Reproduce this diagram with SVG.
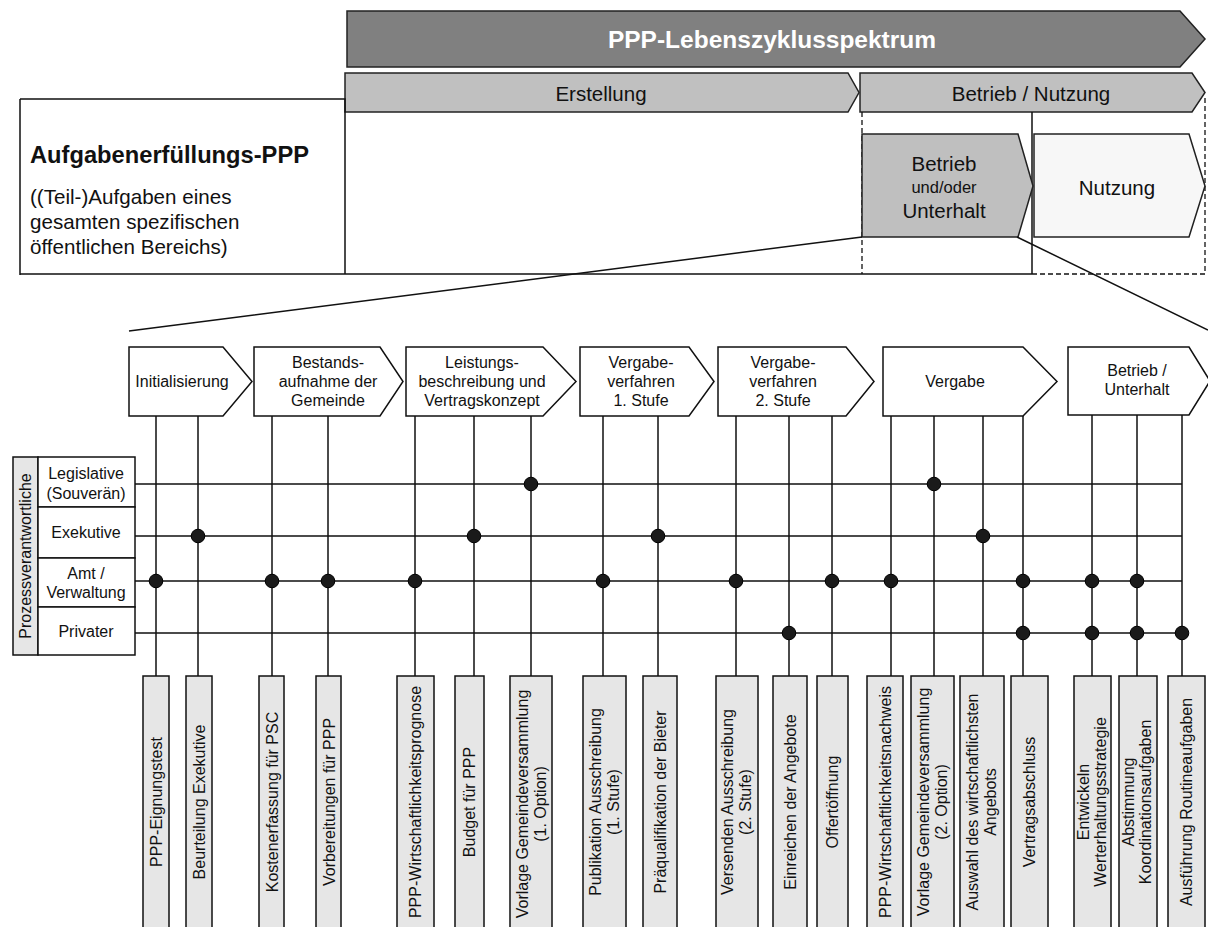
<svg xmlns="http://www.w3.org/2000/svg" width="1208" height="927" viewBox="0 0 1208 927">
<style>
text{font-family:"Liberation Sans",Arial,sans-serif;fill:#111}
.ln{stroke:#111;stroke-width:1.5;fill:none}
.dash{stroke:#111;stroke-width:1.3;fill:none;stroke-dasharray:5,3}
.hdr{fill:#fff;stroke:#111;stroke-width:1.5}
.lbl{fill:#e6e6e6;stroke:#111;stroke-width:1.5}
.cell{fill:#fff;stroke:#111;stroke-width:1.5}
.t16{font-size:16px;text-anchor:middle}
.t21{font-size:20.5px;text-anchor:middle}
.sub{font-size:20.6px}
.dot{fill:#1a1a1a;stroke:#000;stroke-width:1}
</style>
<rect width="1208" height="927" fill="#fff"/>

<g id="lebenszyklus">
<polygon points="347,11 1180,11 1205,39 1180,67 347,67" fill="#808080" stroke="#222" stroke-width="1.5"/>
<text x="772" y="47.5" style="font-size:24.5px;font-weight:bold;fill:#fff;text-anchor:middle">PPP-Lebenszyklusspektrum</text>
</g>
<g id="erstellung">
<polygon points="345,73 848,73 859,92.5 848,112 345,112" fill="#c0c0c0" stroke="#222" stroke-width="1.5"/>
<text class="t21" x="601" y="101">Erstellung</text>
</g>
<g id="betrieb-nutzung">
<polygon points="860,73 1192,73 1205,92.5 1192,112 860,112" fill="#c0c0c0" stroke="#222" stroke-width="1.5"/>
<text class="t21" x="1031" y="101">Betrieb / Nutzung</text>
</g>

<g id="aufgaben">
<path class="ln" d="M20,99 H345 V274 M20,99 V275 M20,274 H1032 M1032,112 V274"/>
<path class="dash" d="M862,112 V274 M1205,98 V274 H1032"/>
<text x="30" y="163" style="font-size:23.7px;font-weight:bold">Aufgabenerfüllungs-PPP</text>
<text class="sub" x="30" y="204">((Teil-)Aufgaben eines</text>
<text class="sub" x="30" y="229">gesamten spezifischen</text>
<text class="sub" x="30" y="254">öffentlichen Bereichs)</text>
</g>

<g id="betrieb-unterhalt-top">
<polygon points="862,134 1018,134 1033,186 1018,237 862,237" fill="#bfbfbf" stroke="#222" stroke-width="1.5"/>
<text class="t21" x="944" y="171">Betrieb</text>
<text x="944" y="193" style="font-size:16.5px;text-anchor:middle">und/oder</text>
<text class="t21" x="944" y="218">Unterhalt</text>
</g>
<g id="nutzung-top">
<polygon points="1034,134 1189,134 1205,186 1189,237 1034,237" fill="#f7f7f7" stroke="#222" stroke-width="1.5"/>
<text class="t21" x="1117" y="195">Nutzung</text>
</g>

<g id="zoom-lines">
<path class="ln" d="M862,237 L129,331 M1017,237 L1208,330" stroke-width="1.3"/>
</g>

<g id="lanes">
<rect x="13" y="457" width="25" height="198" class="lbl"/>
<text transform="translate(31,556) rotate(-90)" class="t16">Prozessverantwortliche</text>
<rect x="38" y="457" width="97" height="50" class="cell"/>
<rect x="38" y="507" width="97" height="51" class="cell"/>
<rect x="38" y="558" width="97" height="49" class="cell"/>
<rect x="38" y="607" width="97" height="48" class="cell"/>
<text class="t16" x="86" y="479">Legislative</text>
<text class="t16" x="86" y="499">(Souverän)</text>
<text class="t16" x="86" y="538">Exekutive</text>
<text class="t16" x="86" y="579">Amt /</text>
<text class="t16" x="86" y="598">Verwaltung</text>
<text class="t16" x="86" y="637">Privater</text>
</g>

<g id="connectors">
<path class="ln" d="M135,484 H1182 M135,536 H1182 M135,581 H1182 M135,633 H1182"/>
<path class="ln" d="M156,416 V676 M198,416 V676 M272,416 V676 M328,416 V676 M415,416 V676 M474,416 V676 M531,416 V676 M603,416 V676 M658,416 V676 M736,416 V676 M789,416 V676 M832,416 V676 M891,416 V676 M934,416 V676 M983,416 V676 M1023,416 V676 M1092,415 V676 M1137,415 V676 M1182,415 V676"/>
<g id="dots">
<circle class="dot" cx="531" cy="484" r="6.8"/>
<circle class="dot" cx="934" cy="484" r="6.8"/>
<circle class="dot" cx="198" cy="536" r="6.8"/>
<circle class="dot" cx="474" cy="536" r="6.8"/>
<circle class="dot" cx="658" cy="536" r="6.8"/>
<circle class="dot" cx="983" cy="536" r="6.8"/>
<circle class="dot" cx="156" cy="581" r="6.8"/>
<circle class="dot" cx="272" cy="581" r="6.8"/>
<circle class="dot" cx="328" cy="581" r="6.8"/>
<circle class="dot" cx="415" cy="581" r="6.8"/>
<circle class="dot" cx="603" cy="581" r="6.8"/>
<circle class="dot" cx="736" cy="581" r="6.8"/>
<circle class="dot" cx="832" cy="581" r="6.8"/>
<circle class="dot" cx="891" cy="581" r="6.8"/>
<circle class="dot" cx="1023" cy="581" r="6.8"/>
<circle class="dot" cx="1092" cy="581" r="6.8"/>
<circle class="dot" cx="1137" cy="581" r="6.8"/>
<circle class="dot" cx="789" cy="633" r="6.8"/>
<circle class="dot" cx="1023" cy="633" r="6.8"/>
<circle class="dot" cx="1092" cy="633" r="6.8"/>
<circle class="dot" cx="1137" cy="633" r="6.8"/>
<circle class="dot" cx="1182" cy="633" r="6.8"/>
</g>
</g>

<g id="h-initialisierung">
<polygon class="hdr" points="129,347 223,347 252,381.5 223,416 129,416"/>
<text class="t16" x="182" y="387">Initialisierung</text>
</g>
<g id="h-bestandsaufnahme">
<polygon class="hdr" points="254,347 380,347 403,381.5 380,416 254,416"/>
<text class="t16" x="328" y="367.5">Bestands-</text>
<text class="t16" x="328" y="386.5">aufnahme der</text>
<text class="t16" x="328" y="405.5">Gemeinde</text>
</g>
<g id="h-leistungsbeschreibung">
<polygon class="hdr" points="406,347 543,347 576,381.5 543,416 406,416"/>
<text class="t16" x="482" y="367.5">Leistungs-</text>
<text class="t16" x="482" y="386.5">beschreibung und</text>
<text class="t16" x="482" y="405.5">Vertragskonzept</text>
</g>
<g id="h-vergabe1">
<polygon class="hdr" points="580,347 689,347 714,381.5 689,416 580,416"/>
<text class="t16" x="641" y="367.5">Vergabe-</text>
<text class="t16" x="641" y="386.5">verfahren</text>
<text class="t16" x="641" y="405.5">1. Stufe</text>
</g>
<g id="h-vergabe2">
<polygon class="hdr" points="718,347 846,347 874,381.5 846,416 718,416"/>
<text class="t16" x="783" y="367.5">Vergabe-</text>
<text class="t16" x="783" y="386.5">verfahren</text>
<text class="t16" x="783" y="405.5">2. Stufe</text>
</g>
<g id="h-vergabe">
<polygon class="hdr" points="883,347 1023,347 1057,381.5 1023,416 883,416"/>
<text class="t16" x="955" y="387">Vergabe</text>
</g>
<g id="h-betrieb">
<polygon class="hdr" points="1068,347 1189,347 1210,381 1189,415 1068,415"/>
<text class="t16" x="1137" y="376">Betrieb /</text>
<text class="t16" x="1137" y="395">Unterhalt</text>
</g>

<g id="l01"><rect class="lbl" x="143" y="676" width="26" height="260"/><text class="t16" transform="translate(161.5,802) rotate(-90)">PPP-Eignungstest</text></g>
<g id="l02"><rect class="lbl" x="186" y="676" width="26" height="260"/><text class="t16" transform="translate(204.5,802) rotate(-90)">Beurteilung Exekutive</text></g>
<g id="l03"><rect class="lbl" x="259" y="676" width="25" height="260"/><text class="t16" transform="translate(277.5,802) rotate(-90)">Kostenerfassung für PSC</text></g>
<g id="l04"><rect class="lbl" x="316" y="676" width="25" height="260"/><text class="t16" transform="translate(334.5,802) rotate(-90)">Vorbereitungen für PPP</text></g>
<g id="l05"><rect class="lbl" x="397" y="676" width="37" height="260"/><text class="t16" transform="translate(421,802) rotate(-90)">PPP-Wirtschaftlichkeitsprognose</text></g>
<g id="l06"><rect class="lbl" x="455" y="676" width="29" height="260"/><text class="t16" transform="translate(475,802) rotate(-90)">Budget für PPP</text></g>
<g id="l07"><rect class="lbl" x="510" y="676" width="42" height="260"/><text class="t16" transform="translate(527.5,804) rotate(-90)">Vorlage Gemeindeversammlung</text><text class="t16" transform="translate(545.5,804) rotate(-90)">(1. Option)</text></g>
<g id="l08"><rect class="lbl" x="583" y="676" width="43" height="260"/><text class="t16" transform="translate(600.5,802) rotate(-90)">Publikation Ausschreibung</text><text class="t16" transform="translate(618.5,802) rotate(-90)">(1. Stufe)</text></g>
<g id="l09"><rect class="lbl" x="643" y="676" width="34" height="260"/><text class="t16" transform="translate(665.5,802) rotate(-90)">Präqualifikation der Bieter</text></g>
<g id="l10"><rect class="lbl" x="716" y="676" width="42" height="260"/><text class="t16" transform="translate(733,802) rotate(-90)">Versenden Ausschreibung</text><text class="t16" transform="translate(751,802) rotate(-90)">(2. Stufe)</text></g>
<g id="l11"><rect class="lbl" x="773" y="676" width="34" height="260"/><text class="t16" transform="translate(795.5,802) rotate(-90)">Einreichen der Angebote</text></g>
<g id="l12"><rect class="lbl" x="817" y="676" width="31" height="260"/><text class="t16" transform="translate(838,802) rotate(-90)">Offertöffnung</text></g>
<g id="l13"><rect class="lbl" x="867" y="676" width="36" height="260"/><text class="t16" transform="translate(890.5,802) rotate(-90)">PPP-Wirtschaftlichkeitsnachweis</text></g>
<g id="l14"><rect class="lbl" x="911" y="676" width="43" height="260"/><text class="t16" transform="translate(928.5,802) rotate(-90)">Vorlage Gemeindeversammlung</text><text class="t16" transform="translate(946.5,802) rotate(-90)">(2. Option)</text></g>
<g id="l15"><rect class="lbl" x="960" y="676" width="44" height="260"/><text class="t16" transform="translate(978,802) rotate(-90)">Auswahl des wirtschaftlichsten</text><text class="t16" transform="translate(996,802) rotate(-90)">Angebots</text></g>
<g id="l16"><rect class="lbl" x="1011" y="676" width="37" height="260"/><text class="t16" transform="translate(1035,802) rotate(-90)">Vertragsabschluss</text></g>
<g id="l17"><rect class="lbl" x="1074" y="676" width="37" height="260"/><text class="t16" transform="translate(1089,802) rotate(-90)">Entwickeln</text><text class="t16" transform="translate(1106,802) rotate(-90)">Werterhaltungsstrategie</text></g>
<g id="l18"><rect class="lbl" x="1119" y="676" width="38" height="260"/><text class="t16" transform="translate(1134,802) rotate(-90)">Abstimmung</text><text class="t16" transform="translate(1151,802) rotate(-90)">Koordinationsaufgaben</text></g>
<g id="l19"><rect class="lbl" x="1168" y="676" width="37" height="260"/><text class="t16" transform="translate(1192,802) rotate(-90)">Ausführung Routineaufgaben</text></g>
</svg>
